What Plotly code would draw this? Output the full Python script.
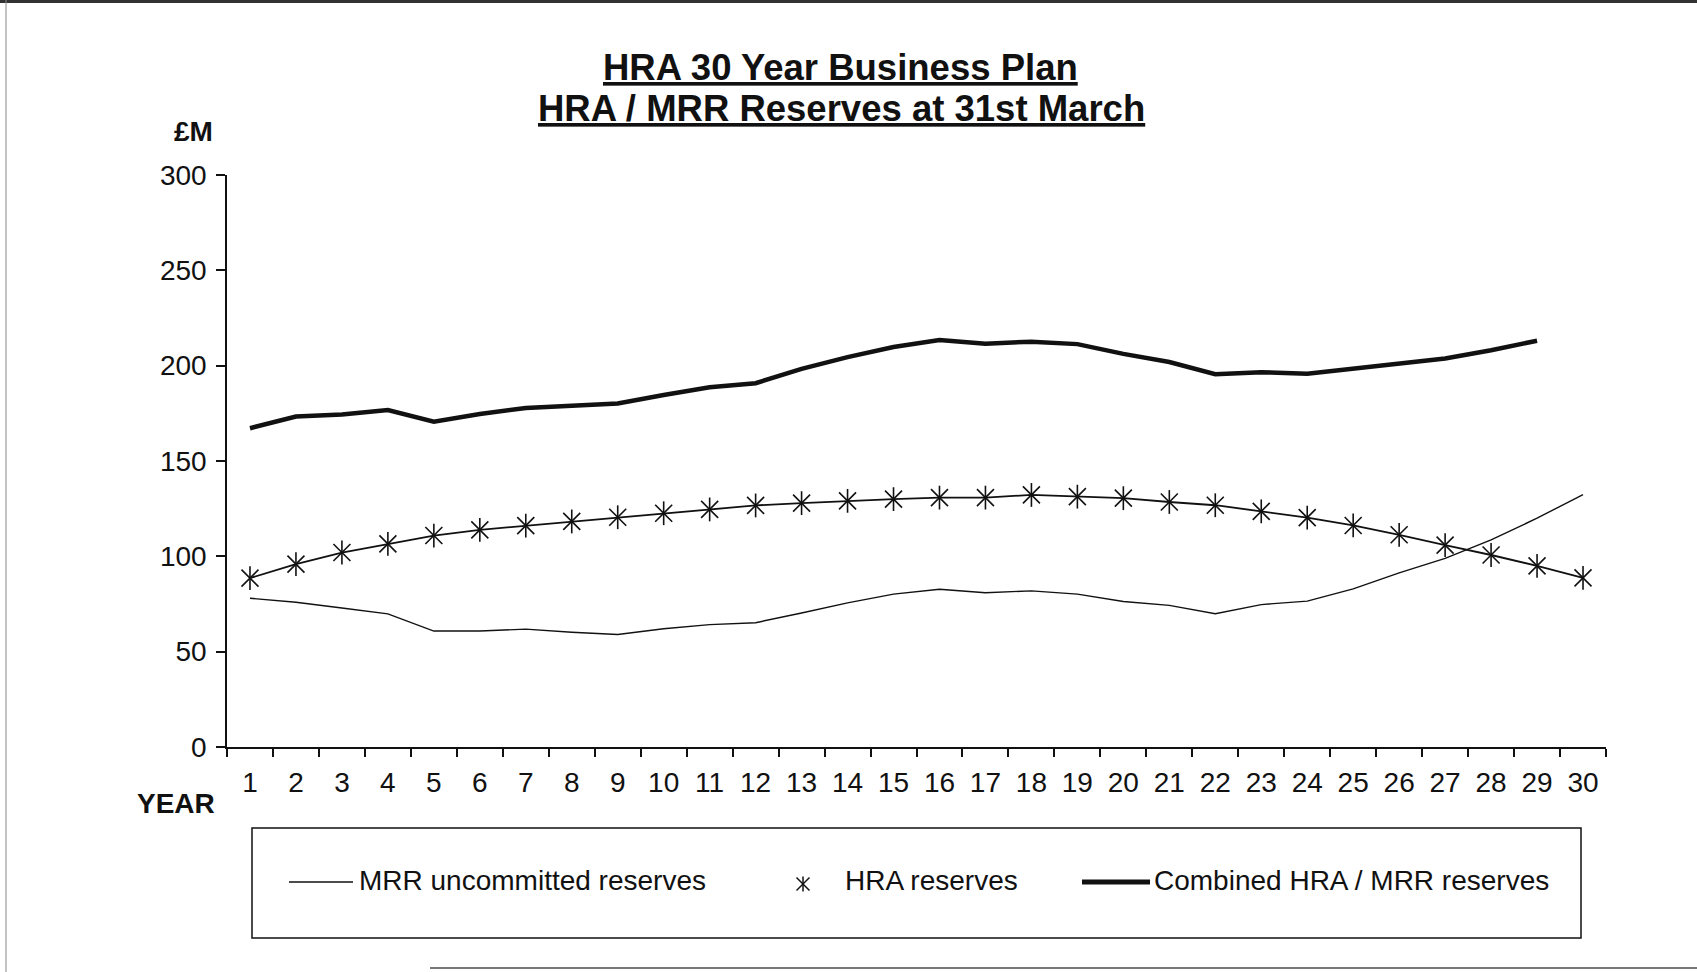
import plotly.graph_objects as go

# HRA 30 year business plan: reserves at 31st March (£M)
years = [str(y) for y in range(1, 31)]

mrr_uncommitted = [78.0, 75.9, 72.9, 69.8, 60.8, 60.8, 61.8, 60.2, 59.0, 62.0,
                   64.2, 65.2, 70.3, 75.6, 80.2, 82.7, 80.9, 81.9, 80.2, 76.3,
                   74.3, 69.9, 74.7, 76.5, 82.9, 91.3, 98.9, 108.6, 120.0, 132.4]

hra_reserves = [88.6, 95.9, 102.0, 106.5, 110.9, 113.9, 116.1, 118.3, 120.5, 122.6,
                124.6, 126.7, 127.9, 129.1, 130.0, 130.8, 130.8, 132.2, 131.3, 130.5,
                128.5, 126.8, 123.6, 120.3, 116.2, 111.3, 105.9, 100.7, 95.0, 88.7]

combined = [167.2, 173.3, 174.4, 176.7, 170.6, 174.6, 177.8, 178.9, 180.2, 184.6,
            188.7, 190.8, 198.3, 204.5, 209.8, 213.4, 211.5, 212.6, 211.3, 206.2,
            201.9, 195.5, 196.6, 195.8, 198.4, 201.4, 203.8, 208.1, 213.1]

y_ticks = [0, 50, 100, 150, 200, 250, 300]

W, H = 1697, 972
M_L, M_R, M_T, M_B = 227, 91, 175, 225
PW, PH = W - M_L - M_R, H - M_T - M_B

FONT = "Liberation Sans, Arial, sans-serif"


def px(x):
    return (x - M_L) / PW


def py(y):
    return (H - M_B - y) / PH


fig = go.Figure()

fig.add_trace(go.Scatter(
    x=years, y=mrr_uncommitted, mode="lines",
    line=dict(color="#111", width=1.4), name="MRR uncommitted reserves"))

fig.add_trace(go.Scatter(
    x=years, y=hra_reserves, mode="lines+markers",
    line=dict(color="#111", width=1.8),
    marker=dict(symbol="x-thin", size=17, line=dict(color="#111", width=1.6)),
    name="HRA reserves"))
# vertical stroke of the six-armed star marker
fig.add_trace(go.Scatter(
    x=years, y=hra_reserves, mode="markers",
    marker=dict(symbol="line-ns", size=17, line=dict(color="#111", width=1.6)),
    hoverinfo="skip", name="HRA reserves"))

fig.add_trace(go.Scatter(
    x=years[:len(combined)], y=combined, mode="lines",
    line=dict(color="#111", width=4.5), name="Combined HRA / MRR reserves"))

shapes = []
# page frame
shapes.append(dict(type="line", xref="paper", yref="paper",
                   x0=px(0), x1=px(W), y0=py(1.5), y1=py(1.5),
                   line=dict(color="#333", width=3)))
shapes.append(dict(type="line", xref="paper", yref="paper",
                   x0=px(6), x1=px(6), y0=py(0), y1=py(H),
                   line=dict(color="#888", width=1)))
shapes.append(dict(type="line", xref="paper", yref="paper",
                   x0=px(430), x1=px(W), y0=py(968), y1=py(968),
                   line=dict(color="#777", width=2)))
# legend box and keys
shapes.append(dict(type="rect", xref="paper", yref="paper",
                   x0=px(252), x1=px(1581), y0=py(828), y1=py(938),
                   line=dict(color="#111", width=1.5)))
shapes.append(dict(type="line", xref="paper", yref="paper",
                   x0=px(289), x1=px(353), y0=py(882), y1=py(882),
                   line=dict(color="#111", width=1.4)))
sx, sy, r = 803, 884, 6.5
shapes.append(dict(type="line", xref="paper", yref="paper",
                   x0=px(sx - r), x1=px(sx + r), y0=py(sy - r), y1=py(sy + r),
                   line=dict(color="#111", width=1.5)))
shapes.append(dict(type="line", xref="paper", yref="paper",
                   x0=px(sx - r), x1=px(sx + r), y0=py(sy + r), y1=py(sy - r),
                   line=dict(color="#111", width=1.5)))
shapes.append(dict(type="line", xref="paper", yref="paper",
                   x0=px(sx), x1=px(sx), y0=py(sy - r - 1), y1=py(sy + r + 1),
                   line=dict(color="#111", width=1.5)))
shapes.append(dict(type="line", xref="paper", yref="paper",
                   x0=px(1082), x1=px(1150), y0=py(882), y1=py(882),
                   line=dict(color="#111", width=5)))

annotations = []


def text(x, y, s, size, anchor="center", bold=False):
    annotations.append(dict(
        xref="paper", yref="paper", x=px(x), y=py(y), text=s, showarrow=False,
        xanchor=anchor, yanchor="middle",
        font=dict(family=FONT, size=size, color="#111",
                  weight="bold" if bold else "normal")))


text(840, 67, "<u>HRA 30 Year Business Plan</u>", 36.5, bold=True)
text(841, 108, "<u>HRA / MRR Reserves at 31st March</u>", 36.5, bold=True)
text(193, 131, "£M", 28, bold=True)
text(176, 803, "YEAR", 28, bold=True)
text(357, 880, "MRR uncommitted reserves", 28, anchor="left")
text(843, 880, "HRA reserves", 28, anchor="left")
text(1152, 880, "Combined HRA / MRR reserves", 28, anchor="left")

fig.update_layout(
    width=W, height=H, autosize=False,
    margin=dict(l=M_L, r=M_R, t=M_T, b=M_B),
    paper_bgcolor="white", plot_bgcolor="white",
    showlegend=False,
    font=dict(family=FONT, size=28, color="#111"),
    shapes=shapes, annotations=annotations,
    xaxis=dict(type="category", range=[-0.5, 29.5], tickson="boundaries",
               ticks="outside", ticklen=8, tickwidth=1.5, tickcolor="#111",
               showline=True, linecolor="#111", linewidth=1.5,
               showgrid=False, zeroline=False, ticklabelstandoff=10,
               tickfont=dict(size=28)),
    yaxis=dict(range=[0, 300], tickvals=y_ticks, ticks="outside", ticklen=9,
               tickwidth=1.5, tickcolor="#111", showline=True,
               linecolor="#111", linewidth=1.5, showgrid=False,
               zeroline=False, tickfont=dict(size=28), ticklabelstandoff=4),
)

fig.write_html("out.html")
